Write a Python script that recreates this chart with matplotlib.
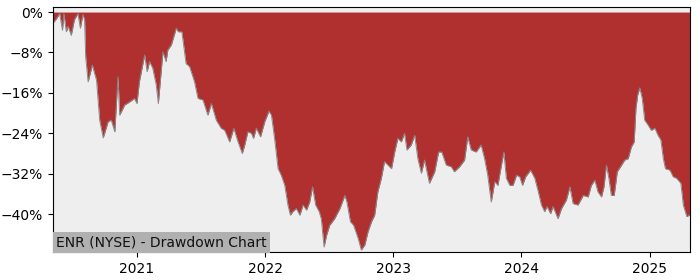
import matplotlib
matplotlib.use("Agg")
import matplotlib.pyplot as plt
import matplotlib.dates as mdates
from matplotlib.ticker import FuncFormatter
import pandas as pd

dates = [
    "2020-05-07", "2020-05-17", "2020-05-26", "2020-06-03", "2020-06-07", "2020-06-14",
    "2020-06-19", "2020-06-28", "2020-07-07", "2020-07-17", "2020-07-24", "2020-07-31",
    "2020-08-05", "2020-08-08", "2020-08-15", "2020-08-27", "2020-09-08", "2020-09-17",
    "2020-09-27", "2020-10-11", "2020-10-20", "2020-10-30", "2020-11-08", "2020-11-13",
    "2020-11-27", "2020-12-11", "2020-12-25", "2021-01-01", "2021-01-08", "2021-01-23",
    "2021-01-30", "2021-02-06", "2021-02-15", "2021-02-25", "2021-03-03", "2021-03-16",
    "2021-03-25", "2021-03-30", "2021-04-09", "2021-04-23", "2021-04-29", "2021-05-09",
    "2021-05-21", "2021-05-31", "2021-06-14", "2021-06-24", "2021-07-08", "2021-07-22",
    "2021-08-01", "2021-08-15", "2021-08-29", "2021-09-08", "2021-09-22", "2021-10-04",
    "2021-10-16", "2021-10-28", "2021-11-04", "2021-11-13", "2021-11-23", "2021-11-29",
    "2021-12-07", "2021-12-19", "2021-12-31", "2022-01-12", "2022-01-19", "2022-01-28",
    "2022-02-07", "2022-02-16", "2022-02-26", "2022-03-07", "2022-03-14", "2022-03-21",
    "2022-03-31", "2022-04-10", "2022-04-19", "2022-04-29", "2022-05-08", "2022-05-16",
    "2022-05-25", "2022-06-04", "2022-06-10", "2022-06-18", "2022-06-25", "2022-07-04",
    "2022-07-18", "2022-08-02", "2022-08-16", "2022-08-22", "2022-09-01", "2022-09-10",
    "2022-09-23", "2022-10-02", "2022-10-12", "2022-10-21", "2022-10-31", "2022-11-09",
    "2022-11-18", "2022-11-28", "2022-12-07", "2022-12-17", "2022-12-27", "2023-01-05",
    "2023-01-14", "2023-01-24", "2023-02-02", "2023-02-09", "2023-02-21", "2023-03-03",
    "2023-03-12", "2023-03-22", "2023-03-31", "2023-04-14", "2023-04-29", "2023-05-10",
    "2023-05-19", "2023-06-01", "2023-06-15", "2023-06-24", "2023-07-09", "2023-07-23",
    "2023-08-01", "2023-08-11", "2023-08-25", "2023-09-08", "2023-09-18", "2023-09-27",
    "2023-10-07", "2023-10-17", "2023-10-26", "2023-11-05", "2023-11-12", "2023-11-19",
    "2023-11-29", "2023-12-08", "2023-12-18", "2023-12-27", "2024-01-04", "2024-01-13",
    "2024-01-27", "2024-02-08", "2024-02-17", "2024-02-27", "2024-03-07", "2024-03-14",
    "2024-03-24", "2024-03-31", "2024-04-14", "2024-04-24", "2024-05-08", "2024-05-18",
    "2024-05-27", "2024-06-10", "2024-06-25", "2024-07-09", "2024-07-18", "2024-07-28",
    "2024-08-06", "2024-08-16", "2024-08-23", "2024-08-30", "2024-09-06", "2024-09-13",
    "2024-09-21", "2024-09-30", "2024-10-12", "2024-10-21", "2024-10-31", "2024-11-09",
    "2024-11-17", "2024-11-22", "2024-11-27", "2024-12-03", "2024-12-10", "2024-12-17",
    "2024-12-27", "2025-01-05", "2025-01-15", "2025-01-24", "2025-02-01", "2025-02-08",
    "2025-02-14", "2025-02-27", "2025-03-08", "2025-03-18", "2025-03-30", "2025-04-06",
    "2025-04-16", "2025-04-25",
]

drawdown_pct = [
    -2.2, -1.3, -0.3, -3.6, -0.3, -3.9,
    -2.8, -4.6, -1.5, -0.3, -3.2, -0.5,
    -1.5, -8.8, -13.8, -10.5, -13.5, -21.4,
    -24.9, -21.7, -21.4, -23.7, -12.8, -20.4,
    -18.4, -17.8, -17.1, -18.1, -13.8, -8.5,
    -11.8, -9.8, -11.1, -14.4, -18.1, -7.9,
    -9.8, -7.5, -6.5, -3.2, -3.9, -3.9,
    -10.2, -10.8, -13.8, -17.1, -17.4, -20.4,
    -18.1, -21.4, -23.0, -23.4, -25.7, -23.0,
    -25.7, -28.0, -26.3, -23.7, -24.0, -25.0,
    -23.0, -24.7, -21.7, -19.6, -20.4, -25.0,
    -31.0, -32.3, -34.3, -38.2, -40.2, -39.5,
    -38.9, -40.2, -38.2, -39.2, -37.6, -34.6,
    -38.2, -39.5, -40.9, -46.5, -44.2, -42.2,
    -40.9, -38.9, -36.3, -37.6, -41.5, -42.2,
    -44.8, -47.1, -46.1, -43.5, -41.5, -40.2,
    -35.6, -32.9, -29.6, -30.3, -31.0, -27.7,
    -25.0, -25.7, -24.0, -27.3, -26.3, -24.4,
    -29.0, -31.9, -29.3, -33.9, -31.6, -27.7,
    -27.7, -30.3, -30.6, -31.6, -30.6, -29.3,
    -24.7, -27.3, -27.7, -26.3, -29.0, -32.3,
    -37.6, -33.6, -34.3, -30.3, -27.7, -32.9,
    -34.3, -34.3, -32.3, -32.6, -34.3, -32.6,
    -31.3, -32.9, -35.3, -38.2, -39.5, -38.5,
    -39.9, -38.5, -40.9, -38.9, -37.2, -34.6,
    -37.9, -38.2, -36.3, -36.6, -34.3, -33.3,
    -35.6, -36.6, -34.6, -30.3, -32.9, -36.3,
    -36.3, -31.6, -30.3, -29.3, -29.0, -26.7,
    -25.7, -19.1, -16.4, -15.0, -17.1, -21.4,
    -22.4, -23.4, -23.0, -24.4, -25.3, -29.0,
    -31.0, -31.3, -32.6, -32.9, -33.9, -38.2,
    -40.5, -40.1,
]

title_text = "ENR (NYSE) - Drawdown Chart"
y_ticks = [0, -8, -16, -24, -32, -40]

x = pd.to_datetime(dates)

fig = plt.figure(figsize=(7, 2.8), dpi=100)
ax = fig.add_axes([0.0757, 0.1, 0.91, 0.875])
ax.set_facecolor("#eeeeee")

ax.fill_between(x, 0, drawdown_pct, color="#b03030", linewidth=0)
ax.plot(x, drawdown_pct, color="#888888", linewidth=0.7)

ax.set_xlim(x[0], x[-1])
ax.set_ylim(-47.5, 1.0)
ax.set_yticks(y_ticks)
ax.yaxis.set_major_formatter(FuncFormatter(lambda v, p: f"{int(v)}%".replace("-", "\u2212")))
ax.xaxis.set_major_locator(mdates.YearLocator())
ax.xaxis.set_major_formatter(mdates.DateFormatter("%Y"))
ax.tick_params(labelsize=10)

ax.text(0.005, 0.012, title_text, transform=ax.transAxes, fontsize=10,
        ha="left", va="bottom", color="#111111",
        bbox=dict(facecolor="#b0b0b0", edgecolor="none", pad=2.5))

fig.savefig("out.png", dpi=100)
